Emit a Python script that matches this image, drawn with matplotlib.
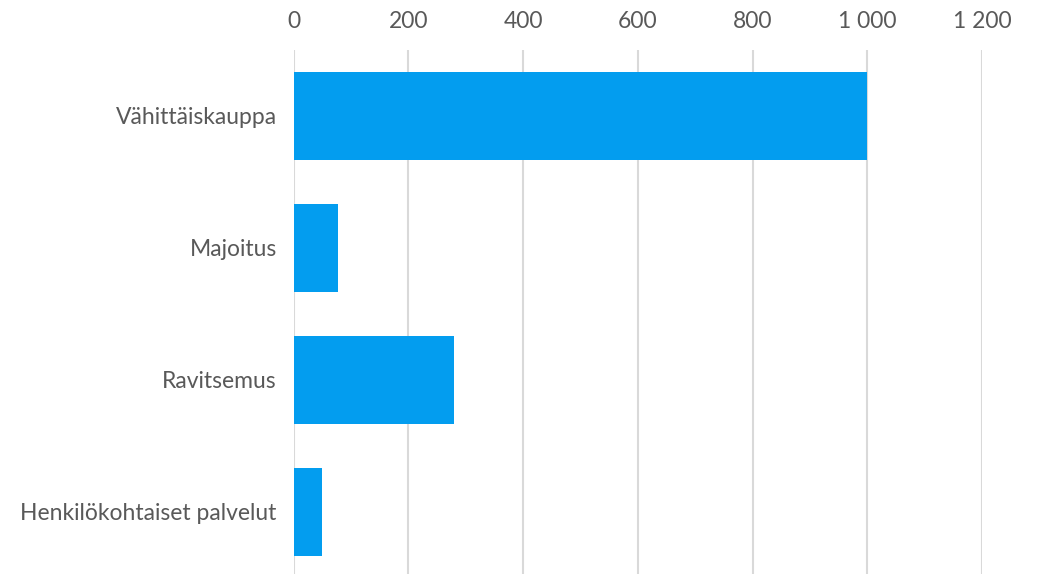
import matplotlib
matplotlib.use("Agg")
import matplotlib.pyplot as plt
from matplotlib.ticker import FuncFormatter

categories = ["Vähittäiskauppa", "Majoitus", "Ravitsemus", "Henkilökohtaiset palvelut"]
values = [1000, 78, 280, 50]
x_ticks = [0, 200, 400, 600, 800, 1000, 1200]

plt.rcParams['font.family'] = ['Lato', 'DejaVu Sans']
fig = plt.figure(figsize=(10.38, 5.74), dpi=100)
ax = fig.add_axes([293.5/1038, 1 - 578/574, (982 - 293.5)/1038, 528/574])

ypos = list(range(len(categories)))
ax.barh(ypos, values, height=0.667, color="#039DEF", zorder=3)
ax.set_ylim(len(categories) - 0.5, -0.5)
ax.set_xlim(0, 1200)
ax.set_xticks(x_ticks)
ax.xaxis.set_major_formatter(FuncFormatter(lambda v, p: f"{int(v):,}".replace(",", " ")))
ax.xaxis.tick_top()
ax.set_yticks(ypos)
ax.set_yticklabels(categories)
ax.tick_params(axis='x', length=0, pad=13, labelsize=16.5, labelcolor="#595959")
ax.tick_params(axis='y', length=0, pad=12, labelsize=16.5, labelcolor="#595959")
ax.grid(axis='x', color="#D9D9D9", linewidth=1.5, zorder=0)
for s in ax.spines.values():
    s.set_visible(False)

fig.savefig("out.png", dpi=100)
